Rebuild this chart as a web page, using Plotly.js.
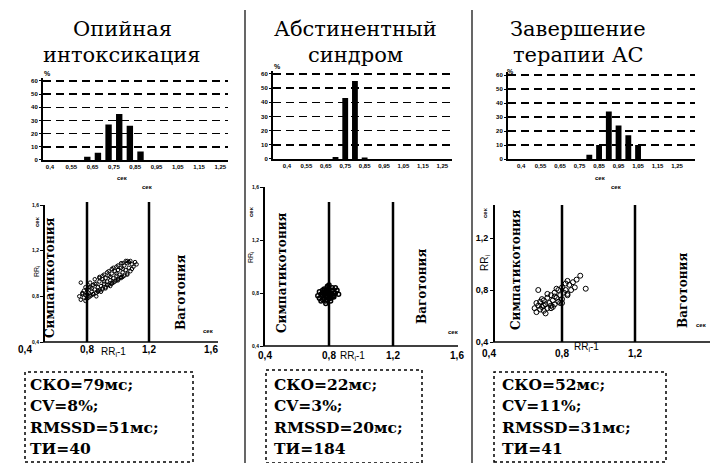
<!DOCTYPE html>
<html><head><meta charset="utf-8">
<script src="https://cdn.plot.ly/plotly-3.0.1.min.js"></script>
<style>html,body{margin:0;padding:0;background:#fff;}#chart{width:713px;height:463px;}</style>
</head><body><div id="chart"></div>
<script>
// ---------- DATA ----------
const panelTitles = [["Опийная","интоксикация"],["Абстинентный","синдром"],["Завершение","терапии АС"]];
const histTickVals = [0.45,0.55,0.65,0.75,0.85,0.95,1.05,1.15,1.25];
const histTickText = ["0,4","0,55","0,65","0,75","0,85","0,95","1,05","1,15","1,25"];
const histYTicks = [0,10,20,30,40,50,60];
const hist1Bins = [0.625,0.675,0.725,0.775,0.825,0.875];
const hist1Pct  = [2.5,5.5,27,35,26,6.5];
const hist2Bins = [0.70,0.75,0.80,0.85];
const hist2Pct  = [1.5,43,55,1];
const hist3Bins = [0.80,0.85,0.90,0.95,1.00,1.05];
const hist3Pct  = [3,10,34,24,17,10];

const scatTickVals = [0.4,0.8,1.2,1.6];
const scatTickText = ["0,4","0,8","1,2","1,6"];
const zoneBounds = [0.8,1.2];
const zoneLabels = ["Симпатикотония","Ваготония"];

const rrPrev1 = [0.75,0.76,0.77,0.78,0.78,0.79,0.80,0.80,0.81,0.82,0.82,0.83,0.84,0.84,0.85,0.86,0.86,0.87,0.88,0.88,0.89,0.90,0.90,0.91,0.92,0.92,0.93,0.94,0.94,0.95,0.96,0.96,0.97,0.98,0.98,0.99,1.00,1.00,1.01,1.02,1.02,1.03,1.04,1.04,1.05,1.06,1.06,1.07,1.08,1.09,1.10,1.11,1.12,0.76,0.79,0.83,0.87,0.91,0.95,0.99,1.03,1.07,
  0.77,0.80,0.81,0.83,0.85,0.86,0.88,0.89,0.90,0.92,0.93,0.95,0.96,0.97,0.99,1.00,1.02,1.03,1.05,1.06,1.08,1.09,0.79,0.82,0.85,0.88,0.91,0.94,0.97,1.00,1.03,1.06,0.81,0.84,0.87,0.90,0.93,0.96,0.99,1.02];
const rrCur1  = [0.80,0.77,0.82,0.79,0.85,0.81,0.78,0.86,0.83,0.80,0.88,0.84,0.82,0.90,0.86,0.83,0.91,0.88,0.85,0.93,0.89,0.86,0.95,0.91,0.88,0.96,0.93,0.90,0.98,0.94,0.91,1.00,0.96,0.93,1.02,0.98,0.95,1.03,0.99,0.96,1.05,1.01,0.98,1.07,1.03,1.00,1.09,1.05,1.02,1.08,1.06,1.10,1.08,0.92,0.76,0.87,0.84,0.93,0.97,1.00,1.04,1.10,
  0.83,0.82,0.88,0.81,0.91,0.80,0.96,0.84,0.98,0.87,1.01,0.89,1.04,0.92,1.06,0.94,1.09,0.97,1.11,0.99,1.11,1.04,0.88,0.92,0.95,0.97,0.99,1.02,1.05,1.07,1.09,1.11,0.79,0.82,0.85,0.87,0.90,0.92,0.94,0.97];
const rrPrev2 = [0.74,0.75,0.76,0.76,0.77,0.77,0.78,0.78,0.78,0.79,0.79,0.79,0.80,0.80,0.80,0.81,0.81,0.82,0.82,0.83,0.84,0.85,0.76,0.78,0.80,0.82,0.79,0.77,0.81,0.83,0.75,0.79,
  0.73,0.74,0.77,0.78,0.80,0.81,0.83,0.84,0.86,0.76,0.79,0.82,0.78,0.80,0.77];
const rrCur2  = [0.76,0.74,0.78,0.80,0.76,0.79,0.77,0.80,0.82,0.75,0.78,0.81,0.77,0.79,0.83,0.78,0.80,0.79,0.82,0.80,0.84,0.82,0.75,0.78,0.81,0.77,0.85,0.82,0.76,0.78,0.79,0.80,
  0.78,0.81,0.83,0.74,0.86,0.74,0.77,0.80,0.79,0.82,0.84,0.84,0.72,0.76,0.80];
const rrPrev3 = [0.65,0.66,0.67,0.68,0.68,0.69,0.70,0.70,0.71,0.72,0.72,0.73,0.74,0.74,0.75,0.76,0.76,0.77,0.78,0.78,0.79,0.80,0.80,0.81,0.82,0.83,0.84,0.85,0.86,0.87,0.88,0.90,0.67,0.93,0.71,0.75,0.79,0.83,
  0.66,0.69,0.72,0.74,0.77,0.80,0.83,0.70,0.76,0.82];
const rrCur3  = [0.66,0.63,0.68,0.65,0.71,0.67,0.64,0.72,0.69,0.66,0.74,0.70,0.68,0.76,0.72,0.69,0.78,0.74,0.71,0.80,0.76,0.73,0.82,0.78,0.80,0.76,0.84,0.80,0.86,0.82,0.88,0.91,0.80,0.81,0.62,0.67,0.70,0.87,
  0.70,0.73,0.77,0.66,0.81,0.70,0.77,0.68,0.75,0.85];

const skoMs   = [79,22,52];
const cvPct   = [8,3,11];
const rmssdMs = [51,20,31];
const tiVals  = [40,184,41];

// ---------- GEOMETRY (pixels) ----------
const W=713, H=463;
const fx = p => p/W, fy = p => 1 - p/H;
const hGeo = [
  {x0:43, x1:228, yTop:81, yBot:160, range:[0.417,1.286], pct:[47,73], sec:[122,178]},
  {x0:273,x1:452, yTop:74, yBot:159, range:[0.378,1.30],  pct:[277,67], sec:null},
  {x0:508,x1:695, yTop:75, yBot:159, range:[0.383,1.342], pct:[511,71], sec:[600,178]}
];
const hYMax = 62; // axis headroom above the 60% gridline
const sGeo = [
  {xd:[25,211], yd:[205,342], yr:[0.4,1.6], yAx:43, xEnd:218, vTop:202, ytv:4, yfs:5, xso:0,
   lab:[113,352], symp:[50,278], vago:[181,293], secTop:[147,187], secR:[208,331], secY:[37,222], rrY:[37,272], msz:3.5, mlw:1},
  {xd:[265,457], yd:[187,346], yr:[0.4,1.6], yAx:263, xEnd:458, vTop:202, ytv:4, yfs:5, xso:2,
   lab:[352,356], symp:[282,273], vago:[422,287], secTop:null, secR:[453,332], secY:[251,212], rrY:[251,258], msz:4, mlw:1.5},
  {xd:[489,708], yd:[205,342], yr:[0.4,1.454], yAx:493, xEnd:710, vTop:205, ytv:3, yfs:9, xso:4,
   lab:[586,347], symp:[516,270], vago:[683,291], secTop:[616,187], secR:[701,325], secY:[485,213], rrY:[485,263], msz:5, mlw:1}
];
const boxes = [
  {x0:25,x1:193,y0:372,y1:462,tx:28},
  {x0:266,x1:422,y0:370,y1:463,tx:272},
  {x0:494,x1:666,y0:372,y1:462,tx:500}
];
const titleX = [122,355,578];

// ---------- BUILD ----------
const hBins=[hist1Bins,hist2Bins,hist3Bins], hPct=[hist1Pct,hist2Pct,hist3Pct];
const rrP=[rrPrev1,rrPrev2,rrPrev3], rrC=[rrCur1,rrCur2,rrCur3];
const traces=[], shapes=[], annotations=[];
const layout = {width:W,height:H,margin:{l:0,r:0,t:0,b:0},paper_bgcolor:'#fff',plot_bgcolor:'rgba(0,0,0,0)',
  showlegend:false, font:{family:'Liberation Sans, Arial, sans-serif', color:'#000'}};
const ann = (text,x,y,o={}) => annotations.push(Object.assign({text,x:fx(x),y:fy(y),xref:'paper',yref:'paper',
  showarrow:false,xanchor:'center',yanchor:'middle',font:{size:10,color:'#000'}},o));
const line = (x0,y0,x1,y1,w,dash) => shapes.push({type:'line',xref:'paper',yref:'paper',x0:fx(x0),x1:fx(x1),y0:fy(y0),y1:fy(y1),
  line:{color:'#000',width:w,dash:dash||'solid'}});

for (let i=0;i<3;i++){
  const k=i+1, xa='x'+(k===1?'':k), ya='y'+(k===1?'':k);
  const g=hGeo[i];
  const topPx = g.yBot - (g.yBot-g.yTop)*hYMax/60;
  traces.push({type:'bar',x:hBins[i],y:hPct[i],width:0.03,marker:{color:'#000'},xaxis:xa,yaxis:ya,hoverinfo:'skip'});
  layout['xaxis'+(k===1?'':k)] = {domain:[fx(g.x0),fx(g.x1)],range:g.range,anchor:ya,showgrid:false,zeroline:false,
    showline:true,linecolor:'#000',linewidth:2,ticks:'',tickvals:histTickVals,ticktext:histTickText,
    tickfont:{size:6,weight:'bold'},fixedrange:true,tickangle:0};
  layout['yaxis'+(k===1?'':k)] = {domain:[fy(g.yBot),fy(topPx)],range:[0,hYMax],anchor:xa,showgrid:true,gridcolor:'#000',
    gridwidth:1.5,griddash:'8px,5px',zeroline:false,showline:true,linecolor:'#000',linewidth:2,ticks:'outside',ticklen:2,
    tickcolor:'#000',tickvals:histYTicks,tickfont:{size:6,weight:'bold'},fixedrange:true};
  ann('%',g.pct[0],g.pct[1],{font:{size:7,weight:'bold'}});
  if (g.sec) ann('сек',g.sec[0],g.sec[1],{font:{size:6,weight:'bold'}});

  // scatter
  const s=sGeo[i], sk=i+4;
  const sxa='x'+sk, sya='y'+sk;
  traces.push({type:'scatter',mode:'markers',x:rrP[i],y:rrC[i],xaxis:sxa,yaxis:sya,hoverinfo:'skip',
    marker:{symbol:'circle-open',size:s.msz,color:'#000',line:{width:s.mlw}}});
  layout['xaxis'+sk] = {domain:[fx(s.xd[0]),fx(s.xd[1])],range:[0.4,1.6],anchor:sya,showgrid:false,zeroline:false,showline:false,
    ticks:'',tickvals:scatTickVals,ticktext:scatTickText,tickfont:{size:10,weight:'bold'},ticklabelstandoff:s.xso,fixedrange:true};
  layout['yaxis'+sk] = {domain:[fy(s.yd[1]),fy(s.yd[0])],range:s.yr,anchor:'free',position:fx(s.yAx),showgrid:false,zeroline:false,
    showline:true,linecolor:'#000',linewidth:1.5,ticks:'outside',ticklen:3,tickcolor:'#000',
    tickvals:scatTickVals.slice(0,s.ytv),ticktext:scatTickText.slice(0,s.ytv),tickfont:{size:s.yfs,weight:'bold'},fixedrange:true};
  line(s.yAx,s.yd[1],s.xEnd,s.yd[1],1.5);
  zoneBounds.forEach(b=>shapes.push({type:'line',xref:sxa,yref:'paper',x0:b,x1:b,y0:fy(s.yd[1]),y1:fy(s.vTop),
    line:{color:'#000',width:2.5}}));
  ann('RR<sub>i</sub>-1',s.lab[0],s.lab[1],{font:{size:10}});
  ann(zoneLabels[0],s.symp[0],s.symp[1],{textangle:-90,font:{size:12,family:'DejaVu Serif',weight:'bold'}});
  ann(zoneLabels[1],s.vago[0],s.vago[1],{textangle:-90,font:{size:12,family:'DejaVu Serif',weight:'bold'}});
  if (s.secTop) ann('сек',s.secTop[0],s.secTop[1],{font:{size:6,weight:'bold'}});
  ann('сек',s.secR[0],s.secR[1],{font:{size:6,weight:'bold'}});
  ann('сек',s.secY[0],s.secY[1],{textangle:-90,font:{size:6,weight:'bold'}});
  ann('RR<sub>i</sub>',s.rrY[0],s.rrY[1],{textangle:-90,font:{size:i===2?10:7}});

  // titles
  ann(panelTitles[i][0],titleX[i],29,{font:{size:21,family:'DejaVu Serif'}});
  ann(panelTitles[i][1],titleX[i],55,{font:{size:21,family:'DejaVu Serif'}});

  // stats box
  const b=boxes[i];
  shapes.push({type:'rect',xref:'paper',yref:'paper',x0:fx(b.x0),x1:fx(b.x1),y0:fy(b.y1),y1:fy(b.y0),
    line:{color:'#000',width:1.5,dash:'dot'}});
  const lines=['СКО='+skoMs[i]+'мс;','CV='+cvPct[i]+'%;','RMSSD='+rmssdMs[i]+'мс;','ТИ='+tiVals[i]];
  [384,405,427,448].forEach((yy,j)=>ann(lines[j],b.tx,yy,{xanchor:'left',font:{size:15.5,family:'DejaVu Serif',weight:'bold'}}));
}
// panel separators
line(245,10,245,463,1.2);
line(472,10,472,463,1.2);

layout.shapes=shapes; layout.annotations=annotations;
Plotly.newPlot('chart',traces,layout,{staticPlot:true,displayModeBar:false});
</script></body></html>
